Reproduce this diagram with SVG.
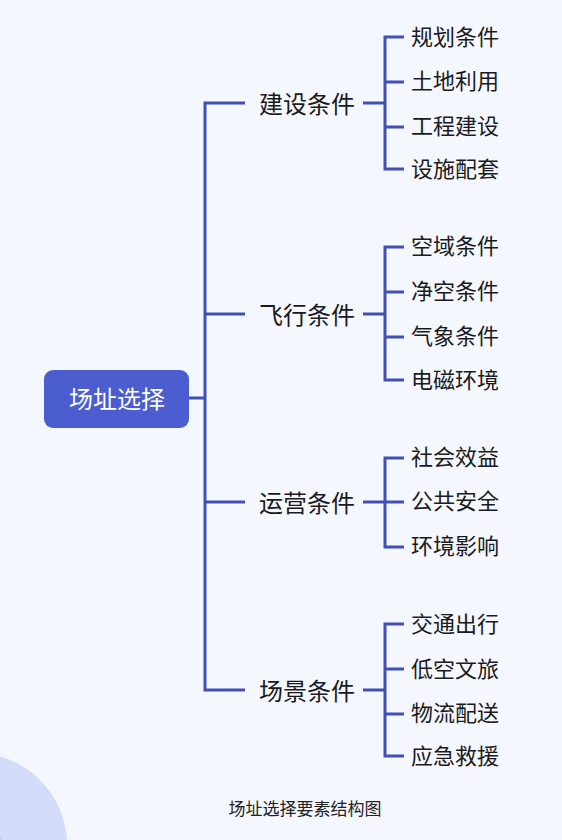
<svg xmlns="http://www.w3.org/2000/svg" width="562" height="840" viewBox="0 0 562 840">
<style>
.ln{stroke:#4050b5;stroke-width:3;fill:none;stroke-linecap:butt;stroke-linejoin:miter}
text{font-family:"Noto Sans CJK SC","Noto Sans",sans-serif;dominant-baseline:central}
.mid{font-size:24px;fill:#1a1a20}
.leaf{font-size:22px;fill:#1a1a20}
.root{font-size:24px;fill:#ffffff;text-anchor:middle}
.cap{font-size:17px;fill:#222;text-anchor:middle}
</style>
<rect width="562" height="840" fill="#f4f7fd"/>
<circle cx="-25" cy="845" r="92" fill="#d3ddfa"/>
<circle cx="-62" cy="872" r="72" fill="#c5d2f8"/>
<g id="connectors">
<path class="ln" d="M189 398H205M245 103H205V690H245M205 314H245M205 502H245"/>
<path class="ln" d="M363 103H385M404 37H385V169H404M385 82H404M385 127H404"/>
<path class="ln" d="M363 314H385M404 247H385V380H404M385 292H404M385 337H404"/>
<path class="ln" d="M363 502H385M404 458H385V547H404M385 502H404"/>
<path class="ln" d="M363 690H385M404 624H385V756H404M385 669H404M385 714H404"/>
</g>
<g id="root"><rect x="44" y="370" width="145" height="58" rx="9" fill="#4b5dcf"/><text class="root" x="117" y="397">场址选择</text></g>
<g id="n-jianshe"><text class="mid" x="259" y="102">建设条件</text></g>
<g id="n-feixing"><text class="mid" x="259" y="313">飞行条件</text></g>
<g id="n-yunying"><text class="mid" x="259" y="501">运营条件</text></g>
<g id="n-changjing"><text class="mid" x="259" y="689">场景条件</text></g>
<g id="l1"><text class="leaf" x="411" y="35">规划条件</text></g>
<g id="l2"><text class="leaf" x="411" y="79">土地利用</text></g>
<g id="l3"><text class="leaf" x="411" y="124">工程建设</text></g>
<g id="l4"><text class="leaf" x="411" y="167">设施配套</text></g>
<g id="l5"><text class="leaf" x="411" y="244">空域条件</text></g>
<g id="l6"><text class="leaf" x="411" y="289">净空条件</text></g>
<g id="l7"><text class="leaf" x="411" y="334">气象条件</text></g>
<g id="l8"><text class="leaf" x="411" y="378">电磁环境</text></g>
<g id="l9"><text class="leaf" x="411" y="455">社会效益</text></g>
<g id="l10"><text class="leaf" x="411" y="499">公共安全</text></g>
<g id="l11"><text class="leaf" x="411" y="544">环境影响</text></g>
<g id="l12"><text class="leaf" x="411" y="622">交通出行</text></g>
<g id="l13"><text class="leaf" x="411" y="667">低空文旅</text></g>
<g id="l14"><text class="leaf" x="411" y="711">物流配送</text></g>
<g id="l15"><text class="leaf" x="411" y="754">应急救援</text></g>
<text class="cap" x="305" y="807">场址选择要素结构图</text>
</svg>
